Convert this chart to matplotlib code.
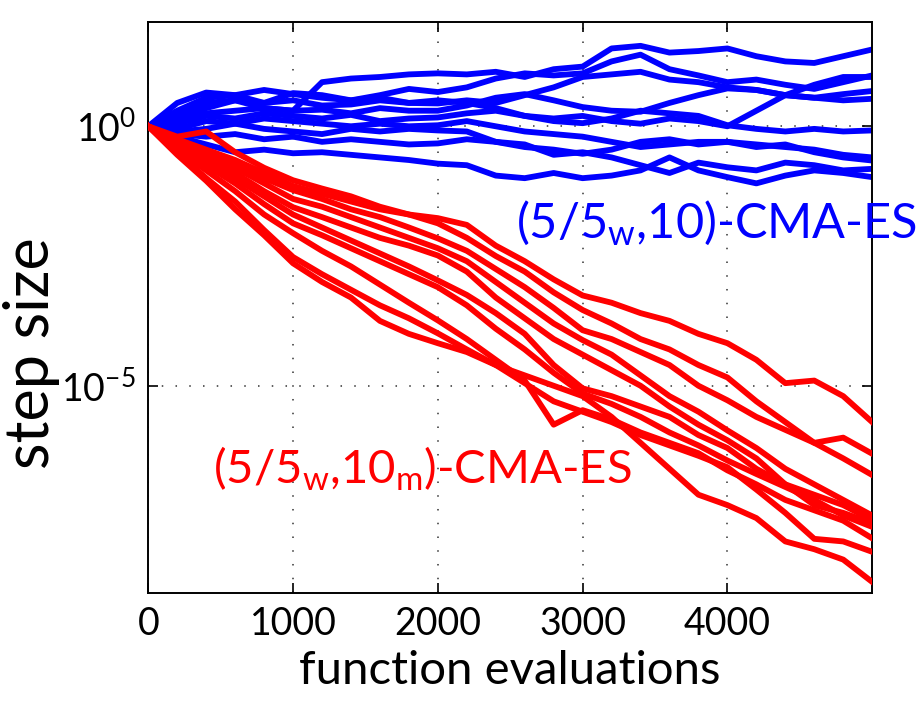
import numpy as np
import matplotlib
matplotlib.use("Agg")
import matplotlib.pyplot as plt

plt.rcParams['font.family'] = ['Lato', 'DejaVu Sans']
plt.rcParams['mathtext.fontset'] = 'custom'
plt.rcParams['mathtext.rm'] = 'Lato'
plt.rcParams['mathtext.it'] = 'Lato:italic'
plt.rcParams['mathtext.bf'] = 'Lato:bold'

# function evaluations (x grid)
evals = list(range(0, 5001, 200))

# log10(step size) of ten runs, (5/5w,10)-CMA-ES
blue_runs = [
    [0, 0.2, 0.45, 0.5, 0.35, 0.3, 0.85, 0.92, 0.95, 1.0, 1.02, 1.0, 1.05, 0.95, 1.1, 1.15, 1.5, 1.55, 1.42, 1.45, 1.5, 1.35, 1.25, 1.22, 1.35, 1.48],
    [0, 0.45, 0.65, 0.6, 0.7, 0.62, 0.55, 0.5, 0.6, 0.72, 0.66, 0.75, 0.92, 1.02, 0.98, 1.02, 1.25, 1.38, 1.1, 0.98, 0.85, 0.9, 0.8, 0.72, 0.85, 0.98],
    [0, 0.15, 0.35, 0.5, 0.45, 0.5, 0.4, 0.42, 0.5, 0.45, 0.44, 0.5, 0.45, 0.6, 0.75, 0.95, 1.0, 1.05, 0.9, 0.85, 0.75, 0.7, 0.6, 0.55, 0.62, 0.68],
    [0, 0.1, 0.25, 0.3, 0.35, 0.3, 0.32, 0.25, 0.35, 0.3, 0.3, 0.4, 0.55, 0.62, 0.5, 0.37, 0.3, 0.28, 0.45, 0.6, 0.73, 0.7, 0.6, 0.55, 0.5, 0.53],
    [0, 0.05, 0.2, 0.15, 0.25, 0.2, 0.15, 0.22, 0.1, 0.15, 0.17, 0.25, 0.3, 0.2, 0.1, 0.06, 0.15, 0.3, 0.25, 0.2, 0.02, -0.05, -0.1, -0.05, -0.1, -0.08],
    [0, -0.05, 0.1, 0.05, 0.15, 0.1, 0.05, 0.0, 0.05, 0.0, 0.02, 0.1, 0.0, -0.1, -0.15, -0.2, -0.3, -0.4, -0.35, -0.3, -0.3, -0.35, -0.4, -0.45, -0.55, -0.6],
    [0, -0.1, -0.05, 0.05, -0.05, -0.1, -0.15, -0.05, -0.1, -0.05, -0.08, -0.1, -0.3, -0.4, -0.45, -0.53, -0.45, -0.3, -0.25, -0.35, -0.3, -0.4, -0.35, -0.5, -0.6, -0.66],
    [0, -0.15, -0.2, -0.15, -0.25, -0.2, -0.3, -0.25, -0.3, -0.35, -0.33, -0.25, -0.3, -0.35, -0.55, -0.5, -0.6, -0.75, -0.9, -0.7, -0.79, -0.85, -0.7, -0.75, -0.85, -0.82],
    [0, -0.2, -0.35, -0.5, -0.45, -0.52, -0.5, -0.55, -0.6, -0.65, -0.72, -0.75, -0.95, -1.0, -0.9, -1.0, -0.95, -0.85, -0.6, -0.85, -0.98, -1.1, -0.95, -0.85, -0.9, -0.98],
    [0, 0.3, 0.55, 0.6, 0.45, 0.64, 0.6, 0.5, 0.55, 0.45, 0.5, 0.45, 0.35, 0.2, 0.15, 0.2, 0.1, 0.05, 0.15, 0.1, 0.0, 0.3, 0.6, 0.8, 0.95, 0.95],
]

# log10(step size) of ten runs, (5/5w,10m)-CMA-ES
red_runs = [
    [0, -0.2, -0.1, -0.5, -0.8, -1.04, -1.2, -1.35, -1.55, -1.7, -1.77, -1.9, -2.3, -2.6, -2.95, -3.26, -3.4, -3.6, -3.75, -4.0, -4.18, -4.5, -4.95, -4.9, -5.2, -5.7],
    [0, -0.25, -0.45, -0.65, -0.9, -1.15, -1.3, -1.45, -1.6, -1.7, -1.87, -2.15, -2.5, -2.8, -3.2, -3.54, -3.8, -4.1, -4.3, -4.6, -4.84, -5.3, -5.7, -6.1, -6.0, -6.31],
    [0, -0.3, -0.5, -0.75, -1.0, -1.23, -1.4, -1.6, -1.75, -1.95, -2.16, -2.4, -2.75, -3.1, -3.5, -3.93, -4.1, -4.35, -4.6, -5.0, -5.28, -5.6, -5.85, -6.1, -6.4, -6.72],
    [0, -0.3, -0.55, -0.8, -1.1, -1.4, -1.55, -1.75, -1.95, -2.15, -2.35, -2.6, -3.0, -3.4, -3.8, -4.12, -4.4, -4.8, -5.2, -5.5, -5.86, -6.2, -6.6, -6.9, -7.2, -7.5],
    [0, -0.35, -0.6, -0.9, -1.25, -1.56, -1.75, -1.95, -2.15, -2.3, -2.49, -2.8, -3.3, -3.7, -4.1, -4.4, -4.7, -5.0, -5.4, -5.75, -6.05, -6.4, -6.9, -7.1, -7.3, -7.59],
    [0, -0.4, -0.7, -1.0, -1.35, -1.7, -1.95, -2.2, -2.45, -2.7, -2.97, -3.25, -3.6, -4.0, -4.6, -5.05, -5.2, -5.4, -5.6, -5.95, -6.2, -6.6, -6.9, -7.3, -7.45, -7.65],
    [0, -0.4, -0.75, -1.1, -1.5, -1.87, -2.1, -2.35, -2.6, -2.85, -3.1, -3.45, -3.9, -4.3, -4.75, -5.15, -5.35, -5.6, -5.9, -6.15, -6.44, -6.7, -6.95, -7.2, -7.5, -7.72],
    [0, -0.45, -0.85, -1.25, -1.7, -2.06, -2.4, -2.7, -3.05, -3.4, -3.74, -4.1, -4.5, -4.9, -5.75, -5.47, -5.65, -5.9, -6.1, -6.3, -6.63, -6.9, -7.2, -7.4, -7.6, -7.94],
    [0, -0.5, -1.0, -1.45, -2.0, -2.52, -2.85, -3.15, -3.45, -3.7, -3.99, -4.3, -4.6, -4.95, -5.3, -5.5, -5.7, -5.95, -6.15, -6.35, -6.57, -7.0, -7.45, -7.95, -8.0, -8.2],
    [0, -0.55, -1.05, -1.6, -2.1, -2.64, -3.0, -3.3, -3.75, -4.0, -4.18, -4.35, -4.6, -4.8, -5.0, -5.2, -5.6, -6.1, -6.6, -7.1, -7.3, -7.55, -8.0, -8.15, -8.35, -8.78],
]

blue_label = r'(5/5$_\mathrm{w}$,10)-CMA-ES'
red_label = r'(5/5$_\mathrm{w}$,10$_\mathrm{m}$)-CMA-ES'
x_ticks = [0, 1000, 2000, 3000, 4000]
y_ticks = [1e0, 1e-5]

fig = plt.figure(figsize=(9.21, 7.03), dpi=100)
ax = fig.add_axes([0.161, 0.156, 0.786, 0.812])

x = np.array(evals)
for run in blue_runs:
    ax.plot(x, 10.0 ** np.array(run), color='#0000ff', lw=4.2, solid_joinstyle='round', zorder=2)
for run in red_runs:
    ax.plot(x, 10.0 ** np.array(run), color='#ff0000', lw=4.2, solid_joinstyle='round', zorder=3)

ax.set_yscale('log')
ax.set_xlim(0, 5000)
ax.set_ylim(1e-9, 1e2)
ax.set_xticks(x_ticks)
ax.set_yticks(y_ticks)
ax.minorticks_off()
ax.tick_params(direction='in', length=7, width=1.2, top=True, right=True,
               labelsize=27, pad=9)
ax.grid(True, linestyle=(0, (1, 8)), color='#333333', linewidth=1.1)
for s in ax.spines.values():
    s.set_linewidth(1.4)

ax.set_xlabel('function evaluations', fontsize=34, labelpad=6)
ax.set_ylabel('step size', fontsize=44)
ax.yaxis.set_label_coords(-0.122, 0.42)

ax.text(2540, 10 ** -1.85, blue_label, color='#0000ff', fontsize=35,
        ha='left', va='center', clip_on=False, zorder=5)
ax.text(446, 10 ** -6.6, red_label, color='#ff0000', fontsize=34,
        ha='left', va='center', clip_on=False, zorder=5)

fig.savefig('out.png', dpi=100)
